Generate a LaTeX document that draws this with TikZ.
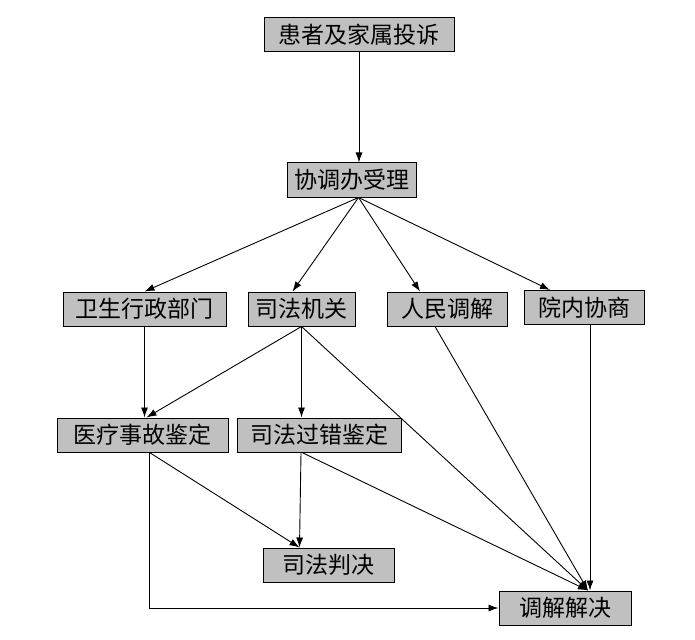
\documentclass[tikz,border=0pt]{standalone}
\usepackage{fontspec}
\newfontfamily\cjk{Noto Sans CJK SC}
\usetikzlibrary{arrows.meta}
\definecolor{boxgray}{RGB}{192,192,192}

\begin{document}
\begin{tikzpicture}[x=1pt,y=-1pt,
            box/.style={draw,fill=boxgray,line width=1pt,minimum height=34,inner sep=0,font=\cjk\fontsize{23}{23}\selectfont},
            link/.style={->,line width=0.9pt,>={Latex[length=10pt,width=7pt]}}
          ]
          \useasboundingbox (0,0) rectangle (695,639);
          \node[box,minimum width=190] (ts) at (359,35) {患者及家属投诉};
          \node[box,minimum width=129] (xtb) at (351.5,180) {协调办受理};

          %second row
          \node[box,minimum width=163] (wsxz) at (144.5,309) {卫生行政部门};
          \node[box,minimum width=107] (sfjg) at (301.5,309) {司法机关};
          \node[box,minimum width=120] (rmtj) at (447,309) {人民调解};
          \node[box,minimum width=120] (ynxs) at (584,307.5) {院内协商};

          %third row
          \node[box,minimum width=171] (ylsg) at (142.5,435) {医疗事故鉴定};
          \node[box,minimum width=164] (sfgc) at (319,435) {司法过错鉴定};

          %results
          \node[box,minimum width=131] (sfpj) at (328.5,565) {司法判决};
          \node[box,minimum width=132] (tjjj) at (565,608) {调解解决};

          \coordinate (hub) at ([xshift=7]xtb.south);
          \coordinate (pjin) at ([xshift=-29]sfpj.north);
          \coordinate (tjin) at ([xshift=23]tjjj.north);

          \path[link]
          (ts.south) edge (ts.south |- xtb.north)
          (hub) edge (wsxz.north)
          (hub) edge ([xshift=-9]sfjg.north)
          (hub) edge ([xshift=-27]rmtj.north)
          (hub) edge ([xshift=-34]ynxs.north)
          (wsxz.south) edge (wsxz.south |- ylsg.north)
          (sfjg.south) edge ([xshift=4]ylsg.north)
          (sfjg.south) edge (sfjg.south |- sfgc.north)
          (sfjg.south) edge (tjin)
          ([xshift=-12]rmtj.south) edge (tjin)
          ([xshift=6]ynxs.south) edge ([xshift=6]ynxs.south |- tjjj.north)
          ([xshift=7]ylsg.south) edge (pjin)
          ([xshift=-18]sfgc.south) edge (pjin)
          ([xshift=-17]sfgc.south) edge (tjin)
          ;
          \draw[link] ([xshift=7]ylsg.south) |- (tjjj.west);

      \end{tikzpicture}
\end{document}
